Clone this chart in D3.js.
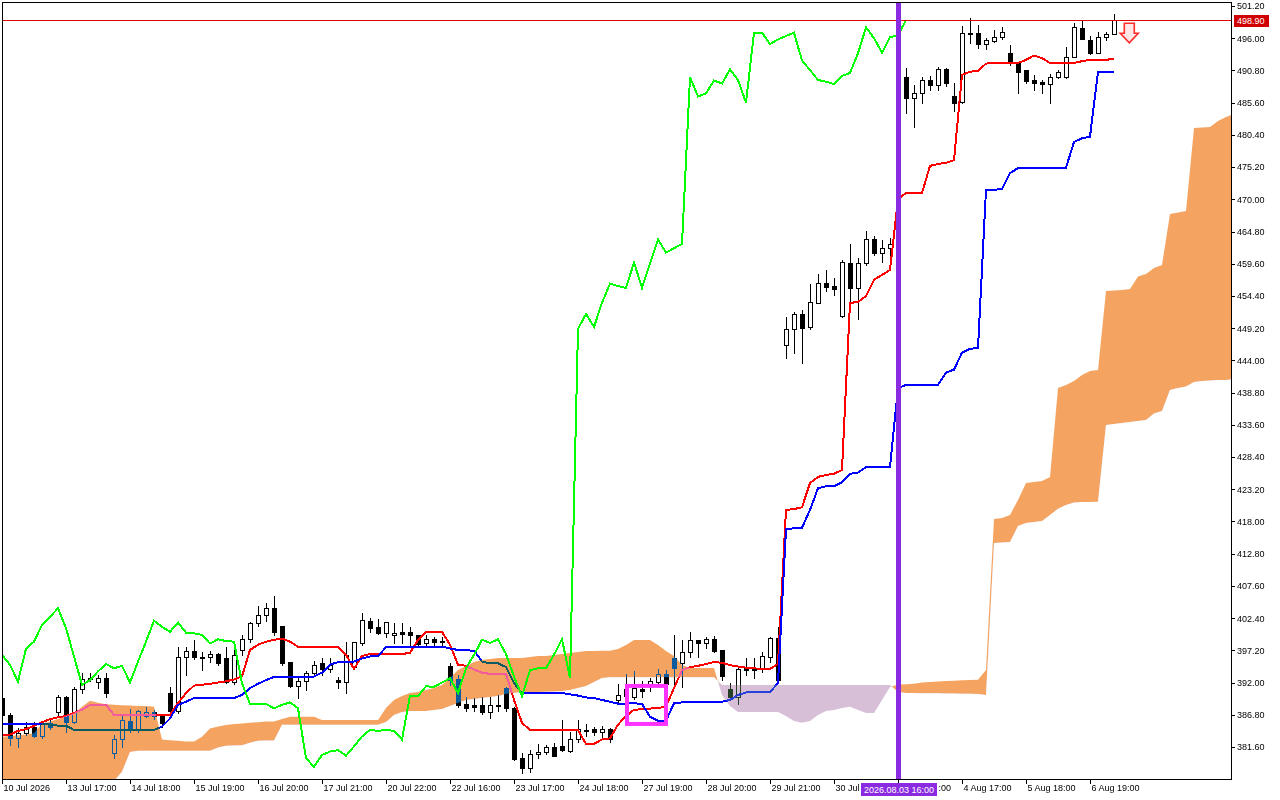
<!DOCTYPE html>
<html><head><meta charset="utf-8">
<script src="https://cdn.jsdelivr.net/npm/d3@7"></script>
<style>
html,body{margin:0;padding:0;background:#fff;overflow:hidden;}
svg{display:block;}
text{font-family:"Liberation Sans",Arial,sans-serif;font-size:9px;fill:#000;}
</style></head><body>
<svg id="chart" width="1280" height="800"></svg>
<script>
// ---------- DATA ----------
const open = [389.5,386.8,383.1,383.9,384.8,383.3,385.5,387.3,389.7,385.7,
391.0,392.6,392.1,392.8,380.6,382.9,385.8,384.5,386.6,387.3,
386.6,390.3,387.4,396.1,397.1,396.1,396.1,396.6,395.9,392.1,
397.3,399.0,401.6,402.9,404.0,401.1,395.3,391.5,392.3,393.6,
395.2,394.2,392.4,392.1,394.5,398.4,401.9,401.0,400.0,399.6,
400.2,400.2,399.7,398.4,399.0,398.5,394.7,392.6,388.5,388.4,
388.4,387.3,388.2,391.2,387.9,379.8,378.2,380.4,380.8,381.6,
381.7,381.0,382.9,384.4,384.5,384.0,384.5,389.2,390.9,389.7,
390.9,391.5,392.1,393.4,395.97,395.2,396.9,398.9,398.4,399.0,
397.3,390.97,389.7,394.4,394.3,394.2,396.1,399.2,446.5,449.07,
451.5,449.4,453.3,456.5,456.0,451.2,459.7,455.7,459.7,463.6,
461.3,462.1,485.0,489.74,486.35,487.2,489.26,488.45,491.03,486.68,
485.7,496.8,496.84,495.07,495.5,496.2,493.6,492.2,490.9,489.3,
488.9,488.6,489.7,489.74,492.97,497.65,495.7,493.6,496.2,496.7];
const high = [389.8,387.1,384.6,385.6,385.7,385.6,385.9,390.0,389.9,391.3,
393.6,393.6,393.2,393.6,383.5,386.8,387.7,387.6,388.0,387.6,
386.8,391.3,397.8,397.8,398.9,396.9,397.1,396.7,397.8,397.8,
399.7,401.7,404.4,404.8,405.98,401.2,395.4,392.8,393.9,395.5,
396.0,396.0,392.9,398.6,398.6,403.2,402.4,402.3,401.8,401.6,
401.6,400.9,399.7,399.7,399.4,399.4,395.2,393.2,389.7,389.5,
389.7,389.7,390.0,391.3,388.0,380.6,381.1,382.1,381.9,382.3,
385.97,384.1,386.0,385.3,384.8,385.0,384.6,391.8,393.4,393.9,
392.2,392.8,394.2,394.0,399.7,398.9,400.2,398.9,399.4,399.5,
397.3,391.9,394.5,396.0,396.0,396.9,399.4,401.0,451.0,451.8,
452.1,456.3,457.9,458.6,457.3,460.2,462.8,460.5,464.9,464.1,
463.4,463.8,489.9,491.2,488.45,489.74,489.9,491.4,491.2,488.8,
497.97,499.26,498.1,496.0,497.3,497.8,494.9,492.2,490.9,490.1,
489.3,490.2,490.9,494.6,498.46,498.8,496.4,497.0,497.0,499.9];
const low = [386.5,382.0,381.6,383.5,383.2,383.1,384.5,386.6,384.0,385.5,
390.3,392.2,391.1,389.7,379.8,381.6,384.0,384.0,386.5,386.2,
384.9,387.1,387.1,393.3,395.8,394.0,395.3,394.8,392.0,391.8,
396.5,398.6,401.1,402.0,399.7,394.8,391.3,389.5,390.8,393.2,
393.2,393.7,391.1,390.3,394.2,398.1,400.2,399.9,399.4,398.4,
398.4,398.1,397.7,398.0,398.0,398.0,391.6,388.1,387.4,387.4,
386.9,386.3,387.4,387.4,379.5,377.4,377.6,379.9,380.5,380.1,
380.9,380.8,382.4,383.4,383.5,383.2,382.4,388.9,389.3,389.4,
389.7,390.7,391.9,391.3,391.3,391.3,396.1,396.1,397.6,396.9,
392.4,389.2,388.5,393.3,392.8,393.7,395.3,392.1,444.4,445.2,
443.6,449.1,453.3,455.2,454.5,451.0,453.3,450.7,459.4,461.0,
459.9,460.7,484.0,483.9,481.7,485.5,487.64,487.6,488.3,484.3,
485.5,495.2,494.4,494.3,495.4,495.9,491.7,487.2,488.8,487.6,
487.2,485.5,489.6,489.6,492.97,495.87,493.45,493.6,495.7,496.7];
const close = [386.8,383.1,383.9,384.8,383.3,385.3,384.9,389.7,385.7,391.0,
392.6,392.7,392.8,390.3,382.9,386.0,384.5,387.4,387.3,386.6,
385.5,387.4,396.1,397.1,396.1,396.0,396.6,395.2,392.1,396.5,
399.0,401.6,402.9,404.0,400.2,395.2,391.5,392.3,393.6,394.9,
394.2,394.9,392.1,396.5,398.6,402.1,400.8,400.0,401.8,400.0,
399.9,399.7,398.2,399.0,398.6,398.7,392.4,388.4,387.9,388.0,
387.3,388.4,388.3,387.9,379.7,378.2,380.5,380.8,381.6,380.2,
381.1,382.9,384.5,384.2,384.0,384.5,382.9,390.0,389.8,391.1,
390.7,392.3,393.4,391.8,394.4,396.9,398.9,398.4,399.0,397.1,
393.1,389.7,394.2,394.0,394.0,396.3,399.2,392.4,449.07,451.49,
449.2,453.4,456.5,455.85,455.5,459.9,455.7,459.7,463.6,461.3,
462.1,462.8,489.7,486.35,487.2,489.26,488.45,491.03,488.8,485.5,
496.84,496.9,495.07,495.7,496.2,497.0,492.3,490.55,489.1,488.8,
488.6,489.7,490.55,492.97,497.8,495.87,493.6,496.2,496.7,498.9];

const tenkan = [383.6,383.6,384.2,384.5,385.0,385.6,386.1,386.4,386.6,387.1,
387.6,388.4,388.4,388.4,386.8,386.8,386.8,386.8,386.8,386.8,
386.8,386.8,388.7,390.3,391.5,391.65,391.8,392.0,392.2,392.5,
393.0,397.26,398.1,398.6,398.9,399.1,398.6,397.8,397.8,397.8,
397.8,397.8,397.8,396.5,394.2,396.3,396.6,396.6,396.6,396.6,
396.6,396.8,398.9,400.1,400.2,400.2,398.1,394.9,394.7,394.1,
393.6,393.4,393.4,393.4,389.2,385.5,384.35,384.35,384.35,384.35,
384.35,384.35,384.35,382.1,382.1,382.8,383.0,385.2,386.6,387.6,
387.7,387.8,387.9,388.1,391.1,394.0,394.5,394.7,395.0,395.3,
395.2,394.8,394.6,394.4,394.3,394.2,394.2,395.0,419.86,420.0,
420.3,424.2,425.2,425.5,425.7,426.3,453.3,453.4,454.4,457.0,
457.8,458.6,470.05,471.0,471.0,471.0,475.4,475.7,475.9,476.3,
490.06,490.6,490.7,491.9,492.0,492.0,492.0,492.0,492.5,493.2,
492.8,492.0,492.0,492.0,492.0,492.3,492.5,492.5,492.5,492.7];

const kijun = [385.32,385.32,385.32,385.32,385.32,385.32,385.2,385.05,385.05,384.35,
384.35,384.35,384.35,384.35,384.35,384.35,384.35,384.35,384.35,384.35,
384.9,386.2,388.4,388.9,389.5,389.5,389.5,389.5,389.5,389.5,
390.0,391.1,391.8,392.4,392.9,392.96,392.96,392.96,392.96,392.96,
393.6,394.9,395.3,395.4,395.4,395.9,396.2,396.3,397.7,397.8,
397.8,397.8,397.8,397.8,397.8,397.8,397.5,397.26,397.2,397.15,
395.4,395.1,395.1,394.5,391.9,390.3,390.3,390.3,390.3,390.3,
390.3,390.1,389.9,389.6,389.5,389.2,388.9,388.6,388.6,388.66,
388.55,386.5,385.85,385.85,388.66,388.8,388.9,388.9,388.9,388.9,
388.9,389.19,390.0,390.4,390.4,390.4,390.5,391.9,416.74,416.9,
417.0,419.86,423.36,423.7,423.7,424.3,425.7,425.9,426.75,426.85,
426.85,426.85,439.55,440.03,440.03,440.03,440.03,440.03,442.05,442.5,
445.26,445.87,446.0,471.5,471.5,471.7,474.2,475.04,475.1,475.1,
475.1,475.1,475.1,475.1,479.24,479.85,480.1,490.55,490.55,490.55];

const chikou = [396.46,394.85,392.15,397.5,398.6,401.3,402.6,404.0,400.8,396.2,
391.65,392.4,393.8,395.0,394.3,394.7,392.0,395.4,398.6,402.0,
401.0,400.2,401.7,400.05,399.96,399.7,398.3,398.98,398.7,398.6,
391.9,388.55,388.55,388.55,387.85,388.4,388.8,387.85,379.8,378.4,
380.3,380.87,381.1,380.2,381.7,383.3,384.35,384.2,384.35,384.2,
382.8,389.9,389.8,391.4,391.3,392.0,392.7,390.3,394.3,396.46,
398.9,398.4,398.98,396.6,392.96,389.8,394.0,394.3,394.3,396.5,
399.0,392.7,449.07,451.5,449.4,453.3,456.4,456.0,455.7,459.8,
455.7,459.6,463.55,461.4,462.1,462.8,489.7,486.6,487.1,489.16,
488.7,490.98,489.26,485.6,496.9,496.9,495.07,495.8,496.36,496.9,
492.4,490.87,489.26,488.98,488.6,489.9,490.4,493.57,497.76,496.0,
493.66,496.15,496.5,498.9];

const spanA = [383.27,383.38,383.5,383.6,383.8,385.4,385.7,386.1,386.6,387.05,
388.1,389.08,388.76,388.5,388.4,388.34,388.3,388.2,388.2,388.1,
382.8,382.7,382.6,382.5,382.5,383.27,384.6,384.9,385.16,385.3,
385.4,385.5,385.6,385.7,385.7,386.1,386.5,386.5,386.5,386.5,
385.97,385.97,385.97,385.97,385.97,385.97,385.97,385.97,387.9,389.19,
389.85,390.33,390.49,390.81,391.13,391.62,392.74,394.04,394.68,395.33,
395.65,395.81,395.97,395.97,395.97,395.97,396.14,396.3,396.3,396.46,
396.62,396.78,396.94,397.1,397.1,397.15,397.15,397.43,398.07,398.88,
398.88,398.88,398.07,397.1,396.3,394.85,394.36,394.36,394.36,394.36,
390.0,388.22,387.26,387.26,387.26,387.26,387.26,387.26,386.6,385.8,
385.5,385.8,386.78,387.42,387.58,387.9,388.1,387.58,387.1,387.1,
389.19,391.3,391.7,391.73,391.81,392.02,392.1,392.18,392.26,392.31,
392.37,392.42,392.46,394.04,418.41,418.57,419.05,421.47,424.22,424.38,
424.54,425.19,439.55,440.03,440.68,441.65,442.29,442.45,455.2,455.28,
455.36,455.53,457.54,457.95,458.92,459.4,467.63,467.87,468.11,481.51,
481.59,481.67,482.64,483.29,483.77];

const spanB = [374.5,374.5,374.5,374.5,374.5,374.5,374.5,374.5,374.5,374.5,
374.5,374.5,374.5,374.5,376.1,377.6,380.8,381.0,381.0,381.0,
381.0,381.0,381.0,381.0,381.0,381.0,381.0,381.5,381.8,381.85,
381.9,382.3,382.6,382.65,382.65,385.2,385.2,385.2,385.2,385.2,
385.2,385.2,385.2,385.2,385.2,385.2,385.2,385.2,385.64,386.78,
387.26,387.42,387.42,387.42,387.58,387.74,388.22,388.7,389.19,389.36,
389.52,389.68,389.85,390.17,390.33,390.49,390.49,390.49,390.53,390.57,
390.65,390.81,391.13,391.46,392.1,392.74,392.86,392.86,392.86,392.86,
392.86,392.86,392.86,392.86,392.86,392.86,392.86,392.86,392.86,392.86,
391.62,391.62,391.62,391.62,391.62,391.62,391.62,391.62,391.62,391.62,
391.62,391.62,391.62,391.62,391.62,391.62,391.62,391.62,391.62,391.62,
391.62,391.62,390.49,390.33,390.33,390.29,390.28,390.26,390.24,390.23,
390.21,390.2,390.16,390.0,414.53,414.61,414.69,417.28,417.76,417.92,
418.08,419.05,420.07,420.67,421.05,421.15,421.15,421.18,433.58,433.74,
433.9,434.06,434.22,434.38,435.43,435.84,439.23,439.55,439.79,440.52,
440.68,440.76,440.84,440.84,441.0];

const priceTicks = [381.6,386.8,392.0,397.2,402.4,407.6,412.8,418.0,423.2,428.4,433.6,438.8,
444.0,449.2,454.4,459.6,464.8,470.0,475.2,480.4,485.6,490.8,496.0,501.2];
const timeTickBars = [0,8,16,24,32,40,48,56,64,72,80,88,96,104,112,120,128,136];
// labels as they are visible (the 30 Jul / 3 Aug labels are partly covered by the marker tag)
const timeTickLabels = ["10 Jul 2026","13 Jul 17:00","14 Jul 18:00","15 Jul 19:00","16 Jul 20:00",
"17 Jul 21:00","20 Jul 22:00","22 Jul 16:00","23 Jul 17:00","24 Jul 18:00","27 Jul 19:00",
"28 Jul 20:00","29 Jul 21:00","30 Jul",":00","4 Aug 17:00","5 Aug 18:00","6 Aug 19:00"];

const lastPrice = 498.90;
const markerBar = 112, markerLabel = "2026.08.03 16:00";
const boxBars = [78.125, 83.0], boxPrices = [385.32, 391.46];
const arrowBar = 141, arrowPrice = 498.41;

// ---------- SCALES ----------
const PL = 2, PR = 1231, PT = 2, PB = 779;
const x = d3.scaleLinear().domain([0, 153.625]).range([2, 1231]);
const y = d3.scaleLinear().domain([381.6, 501.2]).range([747, 6]);

const svg = d3.select("#chart");
svg.append("rect").attr("width",1280).attr("height",800).attr("fill","#fff");
const defs = svg.append("defs");

// ---------- CANDLES ----------
const gC = svg.append("g").attr("shape-rendering","crispEdges");
const bars = d3.range(open.length);
bars.forEach(i => {
  const cx = Math.round(x(i));
  gC.append("line").attr("x1",cx+0.5).attr("x2",cx+0.5)
    .attr("y1",Math.round(y(high[i]))).attr("y2",Math.round(y(low[i]))+1)
    .attr("stroke","#000").attr("stroke-width",1);
  const yo = Math.round(y(open[i])), yc = Math.round(y(close[i]));
  const top = Math.min(yo,yc), bot = Math.max(yo,yc);
  if (close[i] >= open[i]) {
    gC.append("rect").attr("x",cx-1.5).attr("y",top+0.5)
      .attr("width",4).attr("height",Math.max(bot-top,1))
      .attr("fill","#fff").attr("stroke","#000").attr("stroke-width",1);
  } else {
    gC.append("rect").attr("x",cx-2).attr("y",top)
      .attr("width",5).attr("height",Math.max(bot-top+1,1)).attr("fill","#000");
  }
});

// ---------- TENKAN / KIJUN ----------
const line = arr => d3.line().x((d,i)=>x(i)).y(d=>y(d))(arr);
svg.append("path").attr("d",line(tenkan)).attr("fill","none").attr("stroke","#ff0000")
  .attr("stroke-width",2).attr("shape-rendering","crispEdges");
svg.append("path").attr("d",line(kijun)).attr("fill","none").attr("stroke","#0000ff")
  .attr("stroke-width",2).attr("shape-rendering","crispEdges");

// ---------- KUMO (difference blend, like the XOR histogram) ----------
const cIdx = d3.range(spanA.length);
const band = d3.area().x(i=>x(i)).y0(i=>y(spanB[i])).y1(i=>y(spanA[i]));
const aboveB = d3.area().x(i=>x(i)).y0(i=>y(spanB[i])).y1(-200);
const belowB = d3.area().x(i=>x(i)).y0(i=>y(spanB[i])).y1(1200);
defs.append("clipPath").attr("id","cAbove").append("path").attr("d",aboveB(cIdx));
defs.append("clipPath").attr("id","cBelow").append("path").attr("d",belowB(cIdx));
svg.append("path").attr("d",band(cIdx)).attr("fill","rgb(11,91,159)")
  .attr("clip-path","url(#cAbove)").style("mix-blend-mode","difference");
svg.append("path").attr("d",band(cIdx)).attr("fill","rgb(39,64,39)")
  .attr("clip-path","url(#cBelow)").style("mix-blend-mode","difference");

// ---------- CHIKOU ----------
svg.append("path").attr("d",line(chikou)).attr("fill","none").attr("stroke","#00ff00")
  .attr("stroke-width",2).attr("shape-rendering","crispEdges");

// ---------- BID LINE ----------
const yb = Math.round(y(lastPrice));
svg.append("line").attr("x1",PL).attr("x2",PR).attr("y1",yb+0.5).attr("y2",yb+0.5)
  .attr("stroke","#e00000").attr("stroke-width",1);

// ---------- ANNOTATIONS ----------
svg.append("rect").attr("x",x(boxBars[0])).attr("y",y(boxPrices[1]))
  .attr("width",x(boxBars[1])-x(boxBars[0])).attr("height",y(boxPrices[0])-y(boxPrices[1]))
  .attr("fill","none").attr("stroke","#ff33ff").attr("stroke-width",4);

const ax = x(arrowBar)-0.7, ay = y(arrowPrice);
svg.append("path")
  .attr("d",`M${ax-5},${ay} L${ax+5},${ay} L${ax+5},${ay+10} L${ax+9},${ay+10} L${ax},${ay+19.5} L${ax-9},${ay+10} L${ax-5},${ay+10} Z`)
  .attr("fill","#ffe6e6").attr("stroke","#ff2a2a").attr("stroke-width",1.6);

svg.append("rect").attr("x",Math.round(x(markerBar))-2).attr("y",PT).attr("width",5)
  .attr("height",PB-PT).attr("fill","#8a2be2");

// ---------- MARGINS / FRAME ----------
svg.append("rect").attr("x",0).attr("y",0).attr("width",PL).attr("height",800).attr("fill","#fff");
svg.append("rect").attr("x",0).attr("y",0).attr("width",1280).attr("height",PT).attr("fill","#fff");
svg.append("rect").attr("x",PR+1).attr("y",0).attr("width",1280-PR).attr("height",800).attr("fill","#fff");
svg.append("rect").attr("x",0).attr("y",PB+1).attr("width",1280).attr("height",800-PB).attr("fill","#fff");
svg.append("rect").attr("x",PL+0.5).attr("y",PT+0.5).attr("width",PR-PL).attr("height",PB-PT)
  .attr("fill","none").attr("stroke","#000").attr("stroke-width",1).attr("shape-rendering","crispEdges");

// ---------- AXES ----------
const yAxis = d3.axisRight(y).tickValues(priceTicks).tickFormat(d=>d.toFixed(2)).tickSize(4).tickPadding(2);
const gy = svg.append("g").attr("transform",`translate(${PR},0)`).call(yAxis);
gy.select(".domain").remove();
gy.selectAll("text").attr("font-size",9).attr("font-family","Liberation Sans, Arial, sans-serif").attr("fill","#000");
gy.selectAll("line").attr("stroke","#000").attr("shape-rendering","crispEdges");

const mx = Math.round(x(markerBar));
const xAxis = d3.axisBottom(x).tickValues(timeTickBars)
  .tickFormat((d)=>timeTickLabels[timeTickBars.indexOf(d)]).tickSize(5).tickPadding(2);
const gx = svg.append("g").attr("transform",`translate(0,${PB})`).call(xAxis);
gx.select(".domain").remove();
gx.selectAll("text").attr("text-anchor","start").attr("x",1).attr("y",6)
  .attr("font-size",9).attr("font-family","Liberation Sans, Arial, sans-serif").attr("fill","#000");
// the visible tail of the covered label sits just right of the marker tag
gx.selectAll(".tick").filter(d=>d===markerBar).select("text").attr("x",40);
gx.selectAll("line").attr("stroke","#000").attr("shape-rendering","crispEdges");

// ---------- PRICE LABEL ----------
svg.append("rect").attr("x",PR+3).attr("y",yb-5).attr("width",35).attr("height",12).attr("fill","#d00000");
svg.append("text").attr("x",PR+6).attr("y",yb+1).attr("dy","0.35em")
  .style("fill","#fff").text(lastPrice.toFixed(2));

// ---------- TIME MARKER LABEL ----------
svg.append("rect").attr("x",mx-37).attr("y",PB+4).attr("width",76).attr("height",13).attr("fill","#8a2be2");
svg.append("text").attr("x",mx+1).attr("y",PB+11).attr("dy","0.35em").attr("text-anchor","middle")
  .style("fill","#fff").text(markerLabel);
</script>
</body></html>
